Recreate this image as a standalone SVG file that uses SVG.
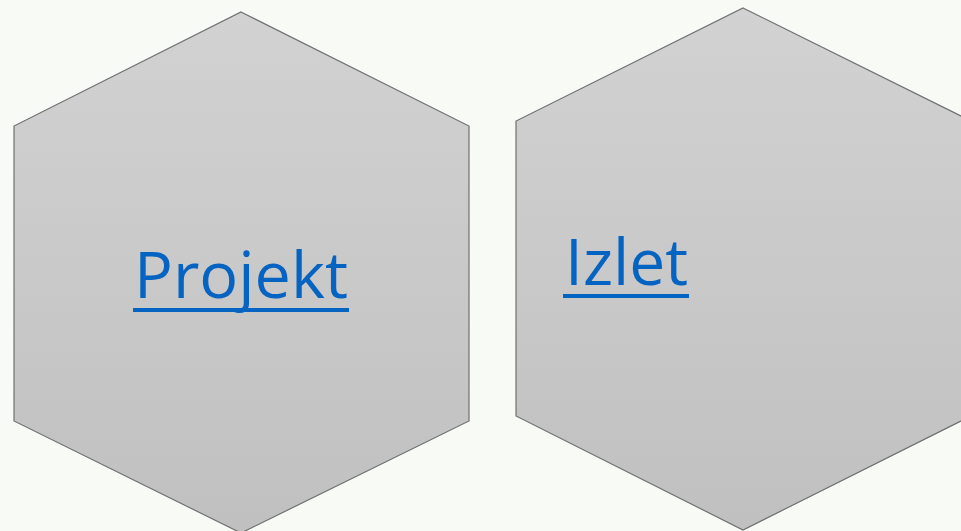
<svg xmlns="http://www.w3.org/2000/svg" width="961" height="531" viewBox="0 0 961 531">
<defs>
<linearGradient id="g" x1="0" y1="0" x2="0" y2="1">
<stop offset="0" stop-color="#d2d2d2"/>
<stop offset="1" stop-color="#c0c0c0"/>
</linearGradient>
<style>
.hex{fill:url(#g);stroke:#707070;stroke-width:1.2}
.lbl{font-family:"Open Sans","DejaVu Sans",sans-serif;font-size:64px;fill:#0563c1}
.ul{stroke:#0563c1;stroke-width:4}
</style>
</defs>
<rect width="961" height="531" fill="#f8faf6"/>
<g id="projekt">
<polygon class="hex" points="241,12 469,126 469,421 241,533 14,421 14,126"/>
<text class="lbl" x="134" y="298" textLength="214" lengthAdjust="spacingAndGlyphs">Projekt</text>
<line class="ul" x1="133" y1="310" x2="349" y2="310"/>
</g>
<g id="izlet">
<polygon class="hex" points="743,8 971,121 971,416 743,530 516,416 516,121"/>
<text class="lbl" x="565" y="285" textLength="123" lengthAdjust="spacingAndGlyphs">Izlet</text>
<line class="ul" x1="563" y1="296" x2="689" y2="296"/>
</g>
<g id="connectors"/>
</svg>
